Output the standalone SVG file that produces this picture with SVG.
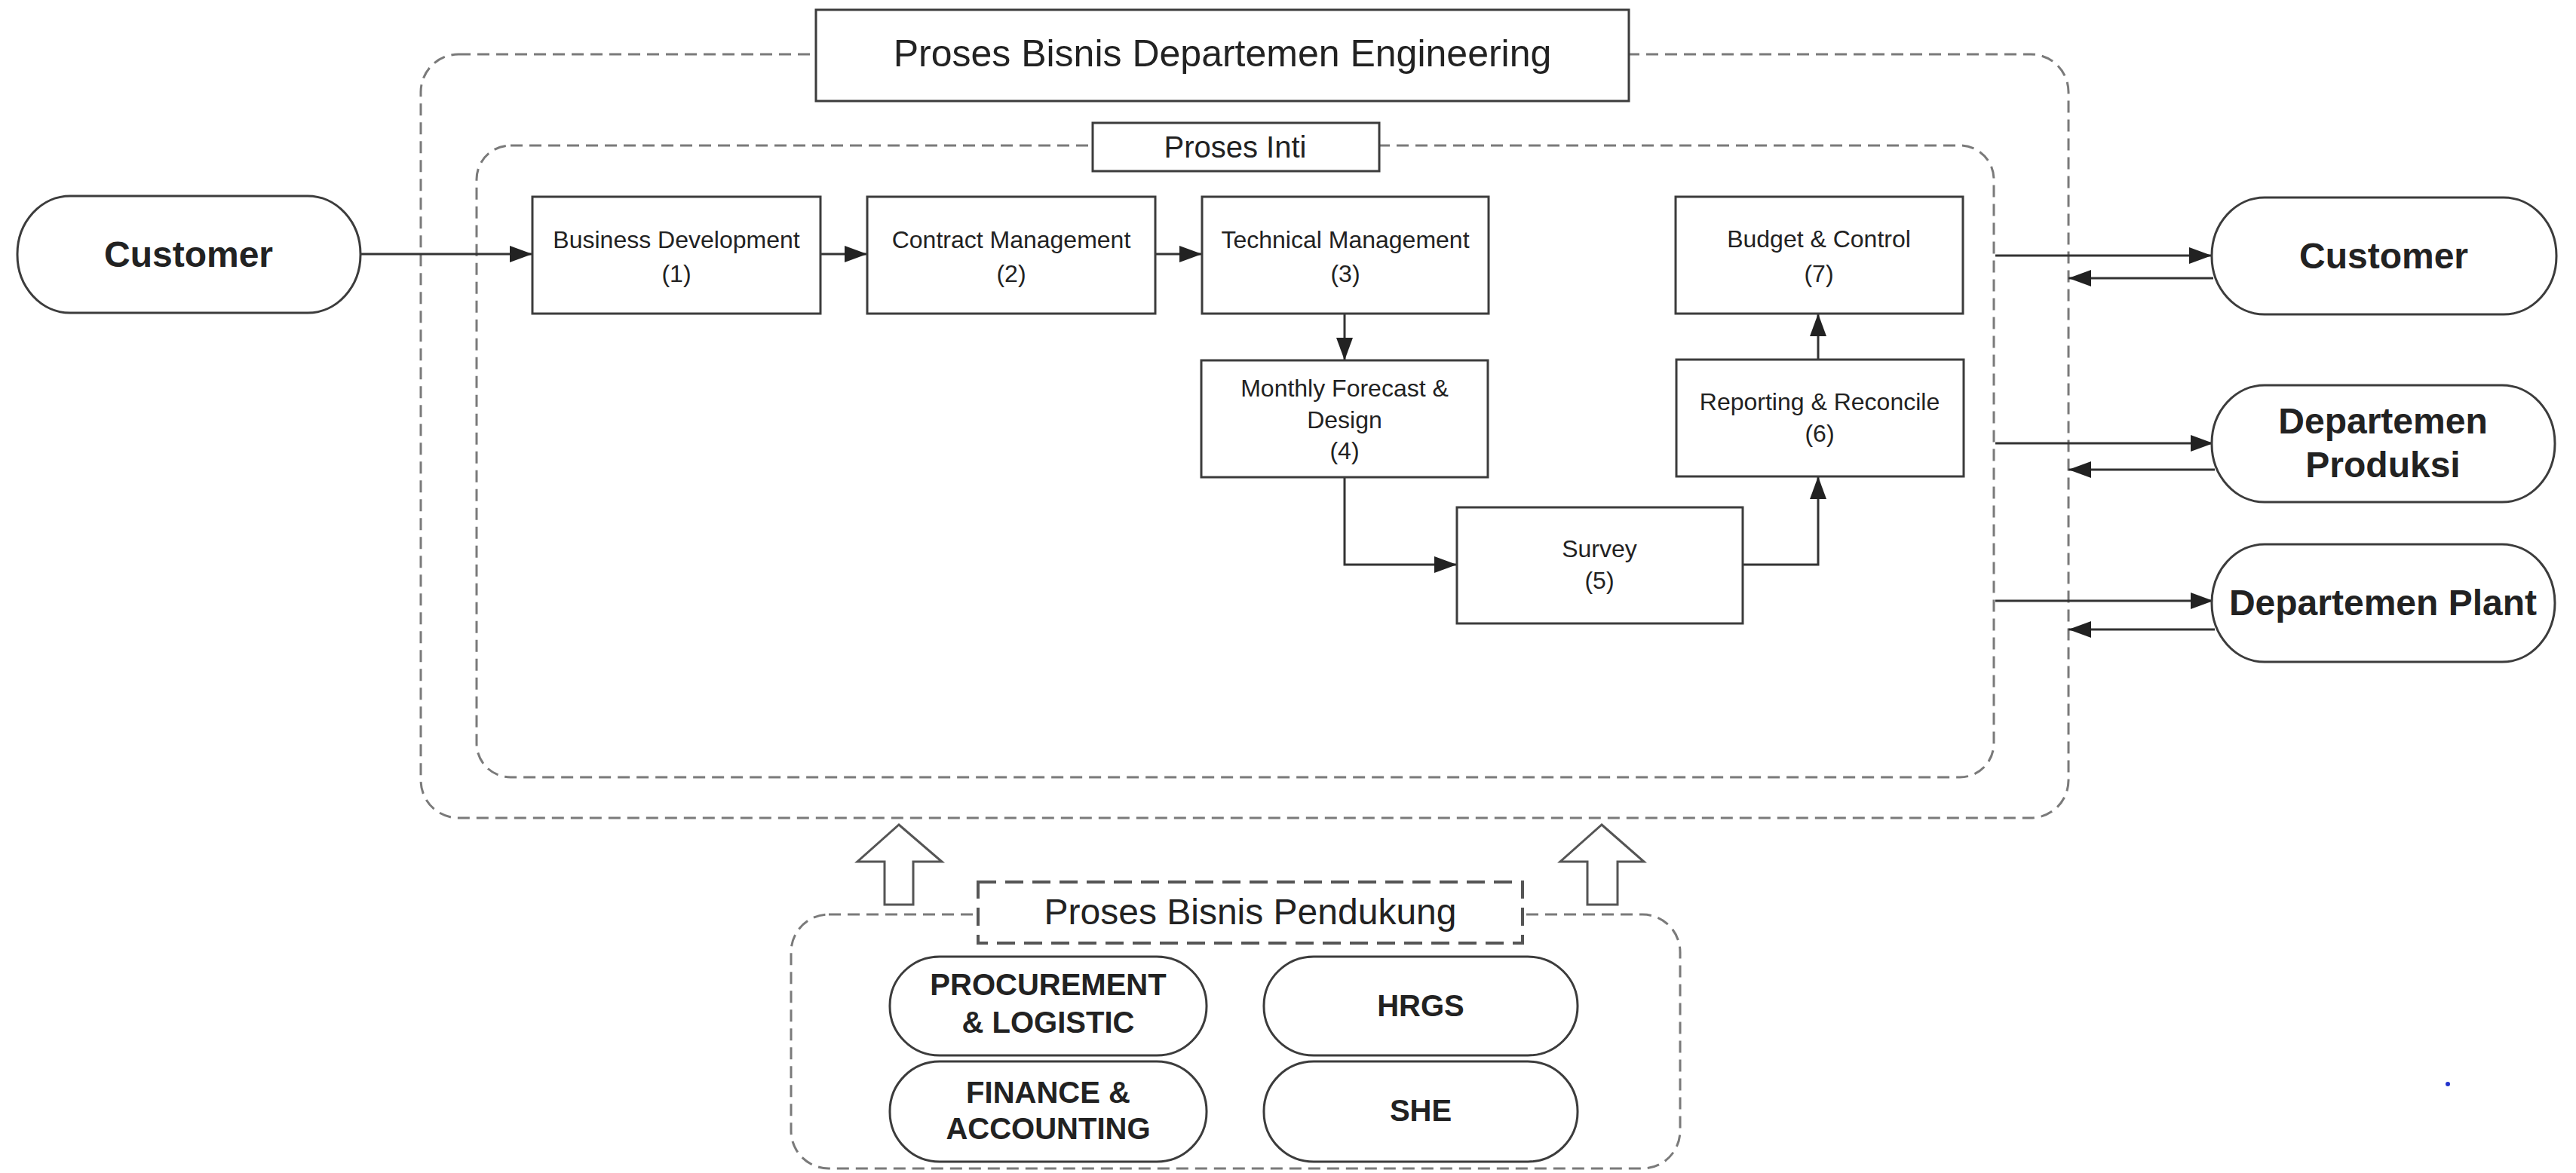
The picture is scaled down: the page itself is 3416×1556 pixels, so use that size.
<svg xmlns="http://www.w3.org/2000/svg" width="3416" height="1556" viewBox="0 0 3416 1556">
<defs>
<style>
.bg{fill:#fff}
.dash{fill:none;stroke:#7a7a7a;stroke-width:3;stroke-dasharray:16 9}
.box{fill:#fff;stroke:#3c3c3c;stroke-width:3}
.pill{fill:#fff;stroke:#3c3c3c;stroke-width:3}
.t{font-family:"Liberation Sans",Arial,sans-serif;fill:#222;text-anchor:middle}
.p{font-size:32px}
.b{font-size:48px;font-weight:bold}
.s{font-size:40px;font-weight:bold}
.line{fill:none;stroke:#333;stroke-width:3}
.hollow{fill:#fff;stroke:#555;stroke-width:3;stroke-linejoin:miter}
</style>
<marker id="ah" viewBox="0 0 30 22" refX="30" refY="11" markerWidth="30" markerHeight="22" markerUnits="userSpaceOnUse" orient="auto">
<path d="M0,0 L30,11 L0,22 Z" fill="#222"/>
</marker>
</defs>
<rect class="bg" x="0" y="0" width="3416" height="1556"/>

<g id="container-engineering">
<rect class="dash" x="558" y="72" width="2185" height="1013" rx="50" ry="50"/>
</g>
<g id="container-inti">
<rect class="dash" x="632" y="193" width="2012" height="838" rx="45" ry="45"/>
</g>
<g id="container-pendukung">
<rect class="dash" x="1049" y="1213" width="1179" height="337" rx="50" ry="50"/>
</g>

<g id="connectors">
<line class="line" x1="478" y1="337" x2="706" y2="337" marker-end="url(#ah)"/>
<line class="line" x1="1088" y1="337" x2="1150" y2="337" marker-end="url(#ah)"/>
<line class="line" x1="1532" y1="337" x2="1594" y2="337" marker-end="url(#ah)"/>
<line class="line" x1="1783" y1="416" x2="1783" y2="478" marker-end="url(#ah)"/>
<polyline class="line" points="1783,633 1783,749 1932,749" marker-end="url(#ah)"/>
<polyline class="line" points="2311,749 2411,749 2411,632" marker-end="url(#ah)"/>
<line class="line" x1="2411" y1="477" x2="2411" y2="416" marker-end="url(#ah)"/>
<line class="line" x1="2646" y1="339" x2="2933" y2="339" marker-end="url(#ah)"/>
<line class="line" x1="2935" y1="369" x2="2743" y2="369" marker-end="url(#ah)"/>
<line class="line" x1="2646" y1="588" x2="2935" y2="588" marker-end="url(#ah)"/>
<line class="line" x1="2937" y1="623" x2="2743" y2="623" marker-end="url(#ah)"/>
<line class="line" x1="2646" y1="797" x2="2935" y2="797" marker-end="url(#ah)"/>
<line class="line" x1="2937" y1="835" x2="2743" y2="835" marker-end="url(#ah)"/>
<polygon class="hollow" points="1192,1094 1249,1143 1211,1143 1211,1200 1173,1200 1173,1143 1137,1143"/>
<polygon class="hollow" points="2124,1094 2180,1143 2145,1143 2145,1200 2105,1200 2105,1143 2069,1143"/>
</g>

<g id="title-engineering">
<rect class="box" x="1082" y="13" width="1078" height="121"/>
<text class="t" x="1621" y="88" font-size="50">Proses Bisnis Departemen Engineering</text>
</g>
<g id="title-inti">
<rect class="box" x="1449" y="163" width="380" height="64"/>
<text class="t" x="1638" y="209" font-size="40">Proses Inti</text>
</g>
<g id="title-pendukung">
<rect x="1297" y="1170" width="722" height="81" fill="#fff" stroke="#555" stroke-width="4" stroke-dasharray="24 12"/>
<text class="t" x="1658" y="1226" font-size="48">Proses Bisnis Pendukung</text>
</g>

<g id="customer-in">
<rect class="pill" x="23" y="260" width="455" height="155" rx="70" ry="77"/>
<text class="t b" x="250" y="354">Customer</text>
</g>
<g id="business-development">
<rect class="box" x="706" y="261" width="382" height="155"/>
<text class="t p" x="897" y="329">Business Development</text>
<text class="t p" x="897" y="374">(1)</text>
</g>
<g id="contract-management">
<rect class="box" x="1150" y="261" width="382" height="155"/>
<text class="t p" x="1341" y="329">Contract Management</text>
<text class="t p" x="1341" y="374">(2)</text>
</g>
<g id="technical-management">
<rect class="box" x="1594" y="261" width="380" height="155"/>
<text class="t p" x="1784" y="329">Technical Management</text>
<text class="t p" x="1784" y="374">(3)</text>
</g>
<g id="monthly-forecast">
<rect class="box" x="1593" y="478" width="380" height="155"/>
<text class="t p" x="1783" y="526">Monthly Forecast &amp;</text>
<text class="t p" x="1783" y="568">Design</text>
<text class="t p" x="1783" y="609">(4)</text>
</g>
<g id="survey">
<rect class="box" x="1932" y="673" width="379" height="154"/>
<text class="t p" x="2121" y="739">Survey</text>
<text class="t p" x="2121" y="781">(5)</text>
</g>
<g id="reporting-reconcile">
<rect class="box" x="2223" y="477" width="381" height="155"/>
<text class="t p" x="2413" y="544">Reporting &amp; Reconcile</text>
<text class="t p" x="2413" y="586">(6)</text>
</g>
<g id="budget-control">
<rect class="box" x="2222" y="261" width="381" height="155"/>
<text class="t p" x="2412" y="328">Budget &amp; Control</text>
<text class="t p" x="2412" y="374">(7)</text>
</g>

<g id="customer-out">
<rect class="pill" x="2933" y="262" width="457" height="155" rx="70" ry="77"/>
<text class="t b" x="3161" y="356">Customer</text>
</g>
<g id="departemen-produksi">
<rect class="pill" x="2933" y="511" width="455" height="155" rx="70" ry="77"/>
<text class="t b" x="3160" y="575">Departemen</text>
<text class="t b" x="3160" y="633">Produksi</text>
</g>
<g id="departemen-plant">
<rect class="pill" x="2933" y="722" width="455" height="156" rx="70" ry="78"/>
<text class="t b" x="3160" y="816">Departemen Plant</text>
</g>

<g id="procurement-logistic">
<rect class="pill" x="1180" y="1269" width="420" height="131" rx="66" ry="65"/>
<text class="t s" x="1390" y="1320">PROCUREMENT</text>
<text class="t s" x="1390" y="1370">&amp; LOGISTIC</text>
</g>
<g id="finance-accounting">
<rect class="pill" x="1180" y="1408" width="420" height="133" rx="66" ry="66"/>
<text class="t s" x="1390" y="1463">FINANCE &amp;</text>
<text class="t s" x="1390" y="1511">ACCOUNTING</text>
</g>
<g id="hrgs">
<rect class="pill" x="1676" y="1269" width="416" height="131" rx="66" ry="65"/>
<text class="t s" x="1884" y="1348">HRGS</text>
</g>
<g id="she">
<rect class="pill" x="1676" y="1408" width="416" height="133" rx="66" ry="66"/>
<text class="t s" x="1884" y="1487">SHE</text>
</g>

<circle cx="3246" cy="1438" r="3" fill="#2233cc"/>
</svg>
